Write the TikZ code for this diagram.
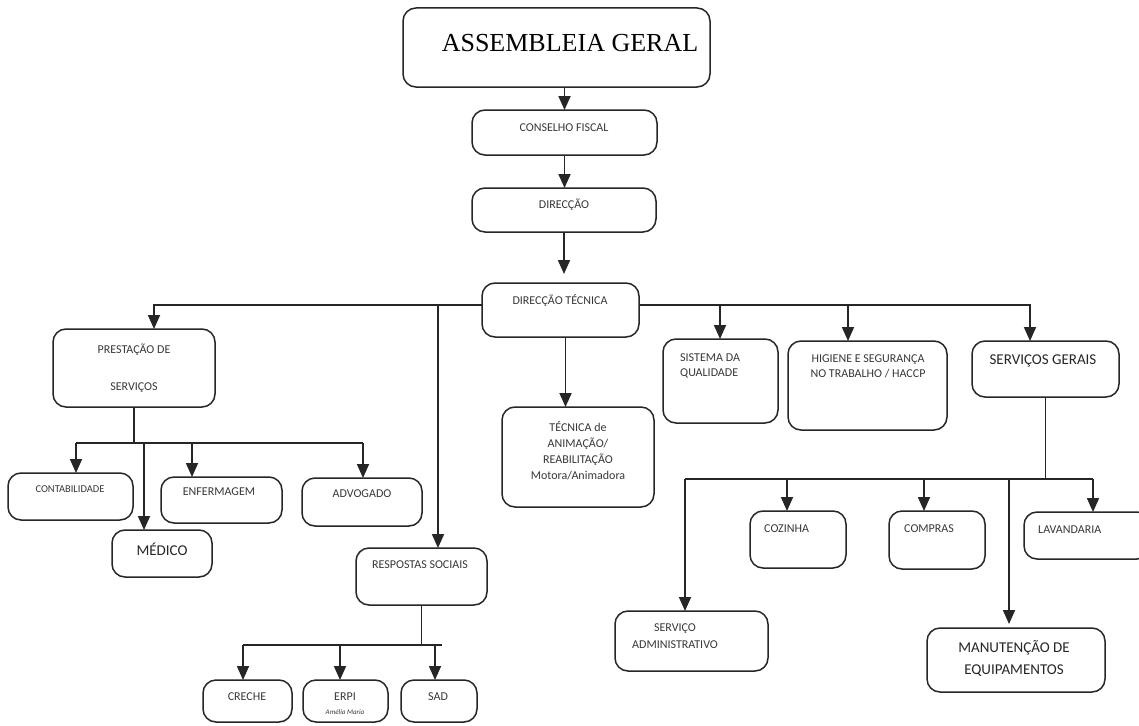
\documentclass[tikz,border=0pt]{standalone}
\usepackage{fontspec}
\setmainfont{Carlito}
\newfontfamily\titlefont{Liberation Serif}
\usetikzlibrary{arrows.meta,calc}
\definecolor{ink}{HTML}{262626}
\definecolor{txtgray}{HTML}{383838}
\tikzset{
  box/.style={draw=ink, line width=1.5pt, rounded corners=13pt, inner sep=0pt, outer sep=0pt, anchor=north west},
  txt/.style={text=txtgray, inner sep=0pt, font=\fontsize{12}{14}\selectfont},
  bigtxt/.style={text=ink, inner sep=0pt, font=\fontsize{15}{17}\selectfont},
  conn/.style={draw=ink, line width=1.8pt},
  arr/.style={conn, -{Triangle[length=14pt,width=12pt]}},
}
\newcommand{\mybox}[5]{\node[box, minimum width={#4pt-#2pt}, minimum height={#5pt-#3pt}] (#1) at (#2,#3) {};}
\begin{document}
\begin{tikzpicture}[x=1pt,y=-1pt]
\useasboundingbox (0,0) rectangle (1139,725);
\fill[white] (0,0) rectangle (1139,725);
\clip (0,0) rectangle (1139,725);
% boxes
\mybox{ag}{403}{8}{710}{87}
\mybox{cf}{472}{110}{657}{155}
\mybox{dir}{472}{188}{656}{232}
\mybox{dt}{482}{283}{639}{337}
\mybox{ps}{53}{329}{215}{407}
\mybox{cont}{8}{473}{133}{520}
\mybox{enf}{161}{477}{282}{523}
\mybox{adv}{302}{478}{422}{526}
\mybox{med}{112}{530}{212}{577}
\mybox{rs}{356}{548}{487}{605}
\mybox{cre}{203}{680}{292}{722}
\mybox{erpi}{303}{680}{388}{722}
\mybox{sad}{401}{680}{477}{722}
\mybox{tec}{502}{407}{654}{507}
\mybox{sq}{663}{339}{778}{423}
\mybox{hig}{788}{341}{947}{430}
\mybox{sg}{972}{341}{1119}{397}
\mybox{sa}{615}{611}{768}{671}
\mybox{coz}{750}{511}{846}{568}
\mybox{comp}{889}{511}{985}{569}
\mybox{lav}{1024}{512}{1150}{559}
\mybox{man}{927}{628}{1105}{692}
% texts
\node[inner sep=0pt, text=black, font=\titlefont\fontsize{26}{28}\selectfont] (tag) at (570,43) {ASSEMBLEIA GERAL};
\node[txt] (tcf) at (564,128) {CONSELHO FISCAL};
\node[txt] (tdir) at (564,205) {DIRECÇÃO};
\node[txt] (tdt) at (560,300) {DIRECÇÃO TÉCNICA};
\node[txt] (tps1) at (134,350) {PRESTAÇÃO DE};
\node[txt] (tps2) at (134,388) {SERVIÇOS};
\node[txt, font=\fontsize{10.5}{12}\selectfont] (tcont) at (70,489) {CONTABILIDADE};
\node[txt] (tenf) at (219,492) {ENFERMAGEM};
\node[txt] (tadv) at (362,494) {ADVOGADO};
\node[bigtxt] (tmed) at (162,549) {MÉDICO};
\node[txt] (trs) at (420,565) {RESPOSTAS SOCIAIS};
\node[txt] (tcre) at (247,697) {CRECHE};
\node[txt] (terpi) at (345,697) {ERPI};
\node[txt, font=\itshape\fontsize{7}{8}\selectfont] (terpi2) at (345,712) {Amélia Maria};
\node[txt] (tsad) at (438,697) {SAD};
\node[txt, align=center, font=\fontsize{12}{16}\selectfont] (ttec) at (578,451) {TÉCNICA de\\ANIMAÇÃO/\\REABILITAÇÃO\\Motora/Animadora};
\node[txt, align=left, anchor=west, font=\fontsize{12}{15}\selectfont] (tsq) at (680,366) {SISTEMA DA\\QUALIDADE};
\node[txt, align=center, font=\fontsize{12}{15}\selectfont] (thig) at (868,366) {HIGIENE E SEGURANÇA\\NO TRABALHO / HACCP};
\node[bigtxt] (tsg) at (1043,361) {SERVIÇOS GERAIS};
\node[txt, align=center, font=\fontsize{12}{17}\selectfont] (tsa) at (675,636) {SERVIÇO\\ADMINISTRATIVO};
\node[txt, anchor=west] (tcoz) at (764,529) {COZINHA};
\node[txt, anchor=west] (tcomp) at (904,529) {COMPRAS};
\node[txt, anchor=west] (tlav) at (1038,530) {LAVANDARIA};
\node[bigtxt, align=center, font=\fontsize{15}{22}\selectfont] (tman) at (1014,659) {MANUTENÇÃO DE\\EQUIPAMENTOS};
% junction coordinates
\coordinate (jL) at (154,305);
\coordinate (jRS) at (438,305);
\coordinate (jSQ) at (720,305);
\coordinate (jH) at (848,305);
\coordinate (jR) at (1030,305);
\coordinate (pC) at (76,443);
\coordinate (pM) at (144,443);
\coordinate (pE) at (192,443);
\coordinate (pA) at (363,443);
\coordinate (rC) at (243,645);
\coordinate (rE) at (340,645);
\coordinate (rS) at (435,645);
\coordinate (rEnd) at (442,645);
\coordinate (sA) at (685,479);
\coordinate (sC) at (787,479);
\coordinate (sP) at (924,479);
\coordinate (sM) at (1009,479);
\coordinate (sL) at (1093,479);
% main chain
\draw[arr] (ag.south -| cf.north) -- (cf.north);
\draw[arr] (cf.south) -- (cf.south |- dir.north);
\draw[arr, shorten >=9pt] (dir.south) -- (dir.south |- dt.north);
\draw[arr] ([xshift=5pt]dt.south) -- ([xshift=5pt]dt.south |- tec.north);
% direcção técnica branches
\draw[arr] (dt.west |- jL) -- (jL) -- (jL |- ps.north);
\draw[arr] (jRS) -- (jRS |- rs.north);
\draw[arr] (dt.east |- jR) -- (jR) -- (jR |- sg.north);
\draw[arr] (jSQ) -- (jSQ |- sq.north);
\draw[arr] (jH) -- (jH |- hig.north);
% prestação de serviços
\draw[conn] (ps.south) -- (ps.south |- pC);
\draw[conn] (pC) -- (pA);
\draw[arr] (pC) -- (pC |- cont.north);
\draw[arr] (pM) -- (pM |- med.north);
\draw[arr] (pE) -- (pE |- enf.north);
\draw[arr] (pA) -- (pA |- adv.north);
% respostas sociais
\draw[conn] (rs.south) -- (rs.south |- rC);
\draw[conn] (rC) -- (rEnd);
\draw[arr] (rC) -- (rC |- cre.north);
\draw[arr] (rE) -- (rE |- erpi.north);
\draw[arr] (rS) -- (rS |- sad.north);
% serviços gerais
\draw[conn] (sg.south) -- (sg.south |- sA);
\draw[conn] (sA) -- (sL);
\draw[arr] (sA) -- (sA |- sa.north);
\draw[arr] (sC) -- (sC |- coz.north);
\draw[arr] (sP) -- (sP |- comp.north);
\draw[arr, shorten >=4pt] (sM) -- (sM |- man.north);
\draw[arr] (sL) -- (sL |- lav.north);
\end{tikzpicture}
\end{document}
